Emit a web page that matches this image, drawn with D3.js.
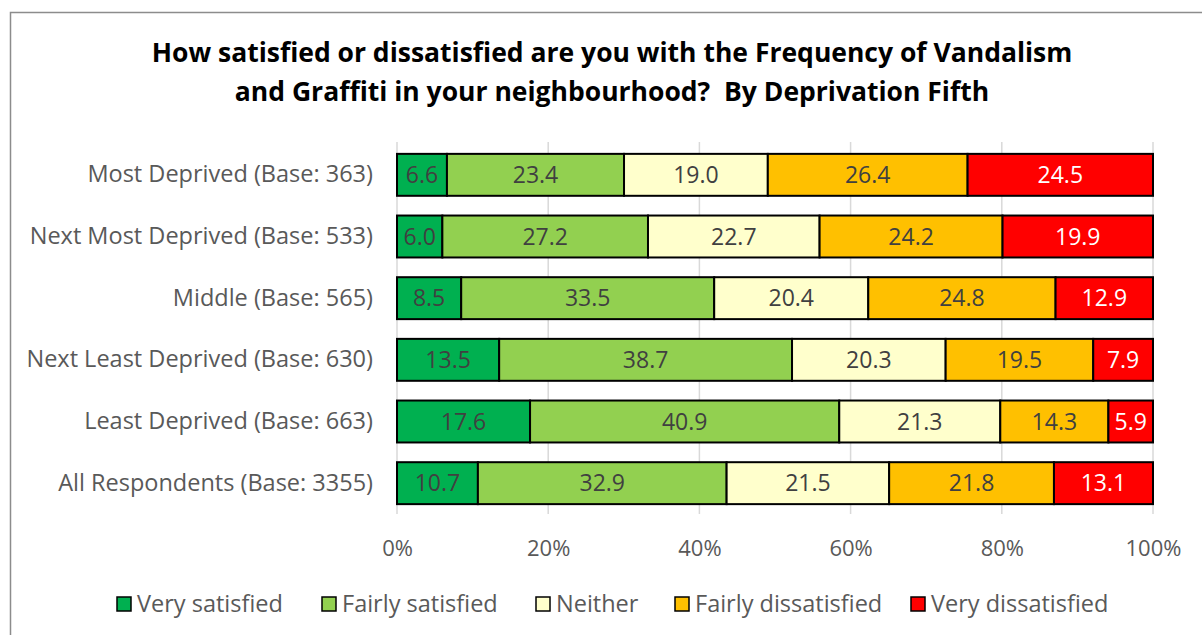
<!DOCTYPE html>
<html>
<head>
<meta charset="utf-8">
<script src="https://cdn.jsdelivr.net/npm/d3@7"></script>
<style>
  body { margin: 0; background: #fff; }
  svg { display: block; font-family: "Open Sans", Lato, sans-serif; }
</style>
</head>
<body>
<div id="chart"></div>
<script>
// Categories (top to bottom)
const categories = [
    "Most Deprived (Base: 363)",
    "Next Most Deprived (Base: 533)",
    "Middle (Base: 565)",
    "Next Least Deprived (Base: 630)",
    "Least Deprived (Base: 663)",
    "All Respondents (Base: 3355)"
];

// Series values (percent)
const verySatisfied = [6.6, 6.0, 8.5, 13.5, 17.6, 10.7];
const fairlySatisfied = [23.4, 27.2, 33.5, 38.7, 40.9, 32.9];
const neither = [19.0, 22.7, 20.4, 20.3, 21.3, 21.5];
const fairlyDissatisfied = [26.4, 24.2, 24.8, 19.5, 14.3, 21.8];
const veryDissatisfied = [24.5, 19.9, 12.9, 7.9, 5.9, 13.1];

const seriesNames = ["Very satisfied", "Fairly satisfied", "Neither", "Fairly dissatisfied", "Very dissatisfied"];
const seriesColors = ["#00B050", "#92D050", "#FFFFCC", "#FFC000", "#FF0000"];
const labelColors = ["#404040", "#404040", "#404040", "#404040", "#FFFFFF"];

const tickValues = [0, 0.2, 0.4, 0.6, 0.8, 1.0];

const width = 1202, height = 635;
const margin = { top: 144, right: 47, bottom: 121, left: 397 };
const font = "'Open Sans', Lato, sans-serif";

const svg = d3.select("#chart")
    .append("svg")
    .attr("width", width)
    .attr("height", height);

// Chart border
svg.append("rect")
    .attr("x", 10.5)
    .attr("y", 12.5)
    .attr("width", 1200)
    .attr("height", 640)
    .attr("fill", "none")
    .attr("stroke", "#8c8c8c")
    .attr("stroke-width", 1.5);

// Title
const title = svg.append("text")
    .attr("text-anchor", "middle")
    .attr("font-weight", "bold")
    .attr("font-size", 26.5)
    .attr("fill", "#000")
    .style("white-space", "pre");
title.append("tspan").attr("x", 612).attr("y", 62)
    .text("How satisfied or dissatisfied are you with the Frequency of Vandalism");
title.append("tspan").attr("x", 612).attr("y", 101)
    .text("and Graffiti in your neighbourhood?  By Deprivation Fifth");

// Build table from series arrays, normalised to 100% like a 100% stacked bar
const allSeries = [verySatisfied, fairlySatisfied, neither, fairlyDissatisfied, veryDissatisfied];
const table = categories.map((c, i) => {
    const row = { category: c };
    const total = d3.sum(allSeries, s => s[i]);
    seriesNames.forEach((name, j) => {
        row[name] = allSeries[j][i] / total;
        row[name + "_raw"] = allSeries[j][i];
    });
    return row;
});

const stacked = d3.stack().keys(seriesNames)(table);

const x = d3.scaleLinear()
    .domain([0, 1])
    .range([margin.left, width - margin.right - 2]);

const y = d3.scaleBand()
    .domain(categories)
    .range([margin.top, height - margin.bottom])
    .paddingInner(0.32)
    .paddingOuter(0.16);

// Gridlines
svg.append("g")
    .selectAll("line")
    .data(tickValues)
    .enter()
    .append("line")
    .attr("x1", d => x(d))
    .attr("x2", d => x(d))
    .attr("y1", margin.top - 2)
    .attr("y2", height - margin.bottom)
    .attr("stroke", "#d9d9d9")
    .attr("stroke-width", 1.5);

// Bars
const groups = svg.append("g")
    .selectAll("g")
    .data(stacked)
    .enter()
    .append("g")
    .attr("fill", (d, i) => seriesColors[i]);

groups.selectAll("rect")
    .data(d => d)
    .enter()
    .append("rect")
    .attr("x", d => x(d[0]))
    .attr("y", d => y(d.data.category))
    .attr("width", d => x(d[1]) - x(d[0]))
    .attr("height", y.bandwidth())
    .attr("stroke", "#000")
    .attr("stroke-width", 2);

// Value labels
stacked.forEach((s, i) => {
    svg.append("g")
        .selectAll("text")
        .data(s)
        .enter()
        .append("text")
        .attr("x", d => (x(d[0]) + x(d[1])) / 2)
        .attr("y", d => y(d.data.category) + y.bandwidth() / 2)
        .attr("dy", "0.36em")
        .attr("text-anchor", "middle")
        .attr("font-size", 23)
        .attr("fill", labelColors[i])
        .text(d => d.data[s.key + "_raw"].toFixed(1));
});

// Y axis labels
const yAxis = svg.append("g")
    .attr("transform", `translate(${margin.left - 24},0)`)
    .call(d3.axisLeft(y).tickSize(0).tickPadding(0));
yAxis.select(".domain").remove();
yAxis.selectAll("text")
    .attr("font-size", 23.5)
    .attr("font-family", font)
    .attr("fill", "#595959");

// X axis labels
const xAxis = svg.append("g")
    .attr("transform", `translate(0,${height - margin.bottom})`)
    .call(d3.axisBottom(x).tickValues(tickValues).tickFormat(d3.format(".0%")).tickSize(0).tickPadding(26));
xAxis.select(".domain").remove();
xAxis.selectAll("text")
    .attr("font-size", 22)
    .attr("font-family", font)
    .attr("fill", "#595959");

// Legend
const legendX = [117, 322, 536, 675, 911];
const legend = svg.append("g")
    .selectAll("g")
    .data(seriesNames)
    .enter()
    .append("g")
    .attr("transform", (d, i) => `translate(${legendX[i]},597)`);

legend.append("rect")
    .attr("width", 14)
    .attr("height", 14)
    .attr("fill", (d, i) => seriesColors[i])
    .attr("stroke", "#000")
    .attr("stroke-width", 1.5);

legend.append("text")
    .attr("x", 20)
    .attr("y", 7)
    .attr("dy", "0.36em")
    .attr("font-size", 23.5)
    .attr("fill", "#595959")
    .text(d => d);
</script>
</body>
</html>
